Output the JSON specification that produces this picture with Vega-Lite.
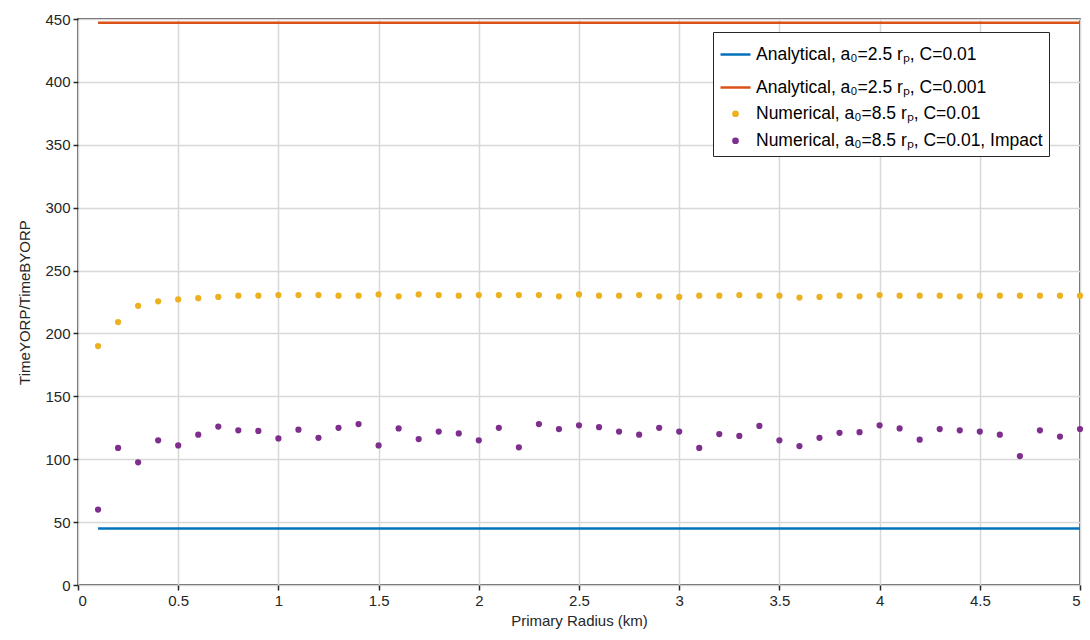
{
  "$schema": "https://vega.github.io/schema/vega-lite/v6.json",
  "width": 1002,
  "height": 566,
  "autosize": {"type": "none"},
  "padding": {"left": 78, "top": 19, "right": 10, "bottom": 55},
  "background": "white",
  "config": {
    "view": {"stroke": "#262626", "strokeWidth": 1.5},
    "font": "Liberation Sans",
    "axis": {
      "labelFont": "Liberation Sans",
      "titleFont": "Liberation Sans",
      "labelFontSize": 15,
      "titleFontSize": 15,
      "labelColor": "#262626",
      "titleColor": "#262626",
      "titleFontWeight": "normal",
      "domain": false,
      "tickColor": "#262626",
      "tickSize": 5,
      "tickWidth": 1.5,
      "gridColor": "#d8d8d8",
      "gridWidth": 1.5
    }
  },
  "data": {
    "values": [
      {"r": 0.1, "v": 45, "s": "Analytical, a₀=2.5 rₚ, C=0.01"},
      {"r": 5.0, "v": 45, "s": "Analytical, a₀=2.5 rₚ, C=0.01"},
      {"r": 0.1, "v": 447, "s": "Analytical, a₀=2.5 rₚ, C=0.001"},
      {"r": 5.0, "v": 447, "s": "Analytical, a₀=2.5 rₚ, C=0.001"},
      {"r": 0.1, "v": 190, "s": "Numerical, a₀=8.5 rₚ, C=0.01"},
      {"r": 0.2, "v": 209, "s": "Numerical, a₀=8.5 rₚ, C=0.01"},
      {"r": 0.3, "v": 222, "s": "Numerical, a₀=8.5 rₚ, C=0.01"},
      {"r": 0.4, "v": 225.5, "s": "Numerical, a₀=8.5 rₚ, C=0.01"},
      {"r": 0.5, "v": 227, "s": "Numerical, a₀=8.5 rₚ, C=0.01"},
      {"r": 0.6, "v": 228, "s": "Numerical, a₀=8.5 rₚ, C=0.01"},
      {"r": 0.7, "v": 229, "s": "Numerical, a₀=8.5 rₚ, C=0.01"},
      {"r": 0.8, "v": 230, "s": "Numerical, a₀=8.5 rₚ, C=0.01"},
      {"r": 0.9, "v": 230, "s": "Numerical, a₀=8.5 rₚ, C=0.01"},
      {"r": 1.0, "v": 230.5, "s": "Numerical, a₀=8.5 rₚ, C=0.01"},
      {"r": 1.1, "v": 230.5, "s": "Numerical, a₀=8.5 rₚ, C=0.01"},
      {"r": 1.2, "v": 230.5, "s": "Numerical, a₀=8.5 rₚ, C=0.01"},
      {"r": 1.3, "v": 230, "s": "Numerical, a₀=8.5 rₚ, C=0.01"},
      {"r": 1.4, "v": 230, "s": "Numerical, a₀=8.5 rₚ, C=0.01"},
      {"r": 1.5, "v": 231, "s": "Numerical, a₀=8.5 rₚ, C=0.01"},
      {"r": 1.6, "v": 229.5, "s": "Numerical, a₀=8.5 rₚ, C=0.01"},
      {"r": 1.7, "v": 231, "s": "Numerical, a₀=8.5 rₚ, C=0.01"},
      {"r": 1.8, "v": 230.5, "s": "Numerical, a₀=8.5 rₚ, C=0.01"},
      {"r": 1.9, "v": 230, "s": "Numerical, a₀=8.5 rₚ, C=0.01"},
      {"r": 2.0, "v": 230.5, "s": "Numerical, a₀=8.5 rₚ, C=0.01"},
      {"r": 2.1, "v": 230.5, "s": "Numerical, a₀=8.5 rₚ, C=0.01"},
      {"r": 2.2, "v": 230.5, "s": "Numerical, a₀=8.5 rₚ, C=0.01"},
      {"r": 2.3, "v": 230.5, "s": "Numerical, a₀=8.5 rₚ, C=0.01"},
      {"r": 2.4, "v": 229.5, "s": "Numerical, a₀=8.5 rₚ, C=0.01"},
      {"r": 2.5, "v": 231, "s": "Numerical, a₀=8.5 rₚ, C=0.01"},
      {"r": 2.6, "v": 230, "s": "Numerical, a₀=8.5 rₚ, C=0.01"},
      {"r": 2.7, "v": 230, "s": "Numerical, a₀=8.5 rₚ, C=0.01"},
      {"r": 2.8, "v": 230.5, "s": "Numerical, a₀=8.5 rₚ, C=0.01"},
      {"r": 2.9, "v": 229.5, "s": "Numerical, a₀=8.5 rₚ, C=0.01"},
      {"r": 3.0, "v": 229, "s": "Numerical, a₀=8.5 rₚ, C=0.01"},
      {"r": 3.1, "v": 230, "s": "Numerical, a₀=8.5 rₚ, C=0.01"},
      {"r": 3.2, "v": 230, "s": "Numerical, a₀=8.5 rₚ, C=0.01"},
      {"r": 3.3, "v": 230.5, "s": "Numerical, a₀=8.5 rₚ, C=0.01"},
      {"r": 3.4, "v": 230, "s": "Numerical, a₀=8.5 rₚ, C=0.01"},
      {"r": 3.5, "v": 230, "s": "Numerical, a₀=8.5 rₚ, C=0.01"},
      {"r": 3.6, "v": 228.5, "s": "Numerical, a₀=8.5 rₚ, C=0.01"},
      {"r": 3.7, "v": 229, "s": "Numerical, a₀=8.5 rₚ, C=0.01"},
      {"r": 3.8, "v": 230, "s": "Numerical, a₀=8.5 rₚ, C=0.01"},
      {"r": 3.9, "v": 229.5, "s": "Numerical, a₀=8.5 rₚ, C=0.01"},
      {"r": 4.0, "v": 230.5, "s": "Numerical, a₀=8.5 rₚ, C=0.01"},
      {"r": 4.1, "v": 230, "s": "Numerical, a₀=8.5 rₚ, C=0.01"},
      {"r": 4.2, "v": 230, "s": "Numerical, a₀=8.5 rₚ, C=0.01"},
      {"r": 4.3, "v": 230, "s": "Numerical, a₀=8.5 rₚ, C=0.01"},
      {"r": 4.4, "v": 229.5, "s": "Numerical, a₀=8.5 rₚ, C=0.01"},
      {"r": 4.5, "v": 230, "s": "Numerical, a₀=8.5 rₚ, C=0.01"},
      {"r": 4.6, "v": 230, "s": "Numerical, a₀=8.5 rₚ, C=0.01"},
      {"r": 4.7, "v": 230, "s": "Numerical, a₀=8.5 rₚ, C=0.01"},
      {"r": 4.8, "v": 230, "s": "Numerical, a₀=8.5 rₚ, C=0.01"},
      {"r": 4.9, "v": 230, "s": "Numerical, a₀=8.5 rₚ, C=0.01"},
      {"r": 5.0, "v": 230, "s": "Numerical, a₀=8.5 rₚ, C=0.01"},
      {"r": 0.1, "v": 60, "s": "Numerical, a₀=8.5 rₚ, C=0.01, Impact"},
      {"r": 0.2, "v": 109, "s": "Numerical, a₀=8.5 rₚ, C=0.01, Impact"},
      {"r": 0.3, "v": 97.5, "s": "Numerical, a₀=8.5 rₚ, C=0.01, Impact"},
      {"r": 0.4, "v": 115, "s": "Numerical, a₀=8.5 rₚ, C=0.01, Impact"},
      {"r": 0.5, "v": 111, "s": "Numerical, a₀=8.5 rₚ, C=0.01, Impact"},
      {"r": 0.6, "v": 119.5, "s": "Numerical, a₀=8.5 rₚ, C=0.01, Impact"},
      {"r": 0.7, "v": 126, "s": "Numerical, a₀=8.5 rₚ, C=0.01, Impact"},
      {"r": 0.8, "v": 123, "s": "Numerical, a₀=8.5 rₚ, C=0.01, Impact"},
      {"r": 0.9, "v": 122.5, "s": "Numerical, a₀=8.5 rₚ, C=0.01, Impact"},
      {"r": 1.0, "v": 116.5, "s": "Numerical, a₀=8.5 rₚ, C=0.01, Impact"},
      {"r": 1.1, "v": 123.5, "s": "Numerical, a₀=8.5 rₚ, C=0.01, Impact"},
      {"r": 1.2, "v": 117, "s": "Numerical, a₀=8.5 rₚ, C=0.01, Impact"},
      {"r": 1.3, "v": 125, "s": "Numerical, a₀=8.5 rₚ, C=0.01, Impact"},
      {"r": 1.4, "v": 128, "s": "Numerical, a₀=8.5 rₚ, C=0.01, Impact"},
      {"r": 1.5, "v": 111, "s": "Numerical, a₀=8.5 rₚ, C=0.01, Impact"},
      {"r": 1.6, "v": 124.5, "s": "Numerical, a₀=8.5 rₚ, C=0.01, Impact"},
      {"r": 1.7, "v": 116, "s": "Numerical, a₀=8.5 rₚ, C=0.01, Impact"},
      {"r": 1.8, "v": 122, "s": "Numerical, a₀=8.5 rₚ, C=0.01, Impact"},
      {"r": 1.9, "v": 120.5, "s": "Numerical, a₀=8.5 rₚ, C=0.01, Impact"},
      {"r": 2.0, "v": 115, "s": "Numerical, a₀=8.5 rₚ, C=0.01, Impact"},
      {"r": 2.1, "v": 125, "s": "Numerical, a₀=8.5 rₚ, C=0.01, Impact"},
      {"r": 2.2, "v": 109.5, "s": "Numerical, a₀=8.5 rₚ, C=0.01, Impact"},
      {"r": 2.3, "v": 128, "s": "Numerical, a₀=8.5 rₚ, C=0.01, Impact"},
      {"r": 2.4, "v": 124, "s": "Numerical, a₀=8.5 rₚ, C=0.01, Impact"},
      {"r": 2.5, "v": 127, "s": "Numerical, a₀=8.5 rₚ, C=0.01, Impact"},
      {"r": 2.6, "v": 125.5, "s": "Numerical, a₀=8.5 rₚ, C=0.01, Impact"},
      {"r": 2.7, "v": 122, "s": "Numerical, a₀=8.5 rₚ, C=0.01, Impact"},
      {"r": 2.8, "v": 119.5, "s": "Numerical, a₀=8.5 rₚ, C=0.01, Impact"},
      {"r": 2.9, "v": 125, "s": "Numerical, a₀=8.5 rₚ, C=0.01, Impact"},
      {"r": 3.0, "v": 122, "s": "Numerical, a₀=8.5 rₚ, C=0.01, Impact"},
      {"r": 3.1, "v": 109, "s": "Numerical, a₀=8.5 rₚ, C=0.01, Impact"},
      {"r": 3.2, "v": 120, "s": "Numerical, a₀=8.5 rₚ, C=0.01, Impact"},
      {"r": 3.3, "v": 118.5, "s": "Numerical, a₀=8.5 rₚ, C=0.01, Impact"},
      {"r": 3.4, "v": 126.5, "s": "Numerical, a₀=8.5 rₚ, C=0.01, Impact"},
      {"r": 3.5, "v": 115, "s": "Numerical, a₀=8.5 rₚ, C=0.01, Impact"},
      {"r": 3.6, "v": 110.5, "s": "Numerical, a₀=8.5 rₚ, C=0.01, Impact"},
      {"r": 3.7, "v": 117, "s": "Numerical, a₀=8.5 rₚ, C=0.01, Impact"},
      {"r": 3.8, "v": 121, "s": "Numerical, a₀=8.5 rₚ, C=0.01, Impact"},
      {"r": 3.9, "v": 121.5, "s": "Numerical, a₀=8.5 rₚ, C=0.01, Impact"},
      {"r": 4.0, "v": 127, "s": "Numerical, a₀=8.5 rₚ, C=0.01, Impact"},
      {"r": 4.1, "v": 124.5, "s": "Numerical, a₀=8.5 rₚ, C=0.01, Impact"},
      {"r": 4.2, "v": 115.5, "s": "Numerical, a₀=8.5 rₚ, C=0.01, Impact"},
      {"r": 4.3, "v": 124, "s": "Numerical, a₀=8.5 rₚ, C=0.01, Impact"},
      {"r": 4.4, "v": 123, "s": "Numerical, a₀=8.5 rₚ, C=0.01, Impact"},
      {"r": 4.5, "v": 122, "s": "Numerical, a₀=8.5 rₚ, C=0.01, Impact"},
      {"r": 4.6, "v": 119.5, "s": "Numerical, a₀=8.5 rₚ, C=0.01, Impact"},
      {"r": 4.7, "v": 102.5, "s": "Numerical, a₀=8.5 rₚ, C=0.01, Impact"},
      {"r": 4.8, "v": 123, "s": "Numerical, a₀=8.5 rₚ, C=0.01, Impact"},
      {"r": 4.9, "v": 118, "s": "Numerical, a₀=8.5 rₚ, C=0.01, Impact"},
      {"r": 5.0, "v": 124, "s": "Numerical, a₀=8.5 rₚ, C=0.01, Impact"}
    ]
  },
  "encoding": {
    "x": {
      "field": "r", "type": "quantitative",
      "scale": {"domain": [0, 5], "nice": false, "zero": false},
      "axis": {
        "title": "Primary Radius (km)",
        "values": [0, 0.5, 1, 1.5, 2, 2.5, 3, 3.5, 4, 4.5, 5],
        "labelExpr": "'' + datum.value",
        "labelPadding": 3,
        "titlePadding": 5
      }
    },
    "y": {
      "field": "v", "type": "quantitative",
      "scale": {"domain": [0, 450], "nice": false},
      "axis": {
        "title": "TimeYORP/TimeBYORP",
        "values": [0, 50, 100, 150, 200, 250, 300, 350, 400, 450],
        "labelPadding": 3,
        "titlePadding": 12
      }
    },
    "color": {
      "field": "s", "type": "nominal",
      "scale": {
        "domain": [
          "Analytical, a₀=2.5 rₚ, C=0.01",
          "Analytical, a₀=2.5 rₚ, C=0.001",
          "Numerical, a₀=8.5 rₚ, C=0.01",
          "Numerical, a₀=8.5 rₚ, C=0.01, Impact"
        ],
        "range": ["#0072BD", "#D95319", "#EDB120", "#7E2F8E"]
      },
      "legend": {
        "title": null,
        "orient": "none",
        "legendX": 635,
        "legendY": 13,
        "strokeColor": "#262626",
        "fillColor": "white",
        "padding": 6,
        "labelFont": "Liberation Sans",
        "labelFontSize": 17.5,
        "labelColor": "#000000",
        "labelLimit": 400,
        "rowPadding": 8,
        "symbolStrokeWidth": 2.5,
        "labelOffset": 4
      }
    }
  },
  "layer": [
    {
      "transform": [{"filter": "indexof(datum.s, 'Numerical') === 0"}],
      "mark": {"type": "point", "filled": true, "opacity": 1},
      "encoding": {
        "stroke": {
          "field": "s", "type": "nominal",
          "scale": {
            "domain": [
              "Analytical, a₀=2.5 rₚ, C=0.01",
              "Analytical, a₀=2.5 rₚ, C=0.001",
              "Numerical, a₀=8.5 rₚ, C=0.01",
              "Numerical, a₀=8.5 rₚ, C=0.01, Impact"
            ],
            "range": ["#0072BD", "#D95319", "#EDB120", "#7E2F8E"]
          },
          "legend": null
        },
        "shape": {
          "field": "s", "type": "nominal",
          "scale": {
            "domain": [
              "Analytical, a₀=2.5 rₚ, C=0.01",
              "Analytical, a₀=2.5 rₚ, C=0.001",
              "Numerical, a₀=8.5 rₚ, C=0.01",
              "Numerical, a₀=8.5 rₚ, C=0.01, Impact"
            ],
            "range": ["stroke", "stroke", "circle", "circle"]
          },
          "legend": null
        },
        "size": {
          "field": "s", "type": "nominal",
          "scale": {
            "type": "ordinal",
            "domain": [
              "Analytical, a₀=2.5 rₚ, C=0.01",
              "Analytical, a₀=2.5 rₚ, C=0.001",
              "Numerical, a₀=8.5 rₚ, C=0.01",
              "Numerical, a₀=8.5 rₚ, C=0.01, Impact"
            ],
            "range": [900, 900, 18, 18]
          },
          "legend": null
        }
      }
    },
    {
      "transform": [{"filter": "indexof(datum.s, 'Analytical') === 0"}],
      "mark": {"type": "line", "strokeWidth": 2.5}
    }
  ]
}
